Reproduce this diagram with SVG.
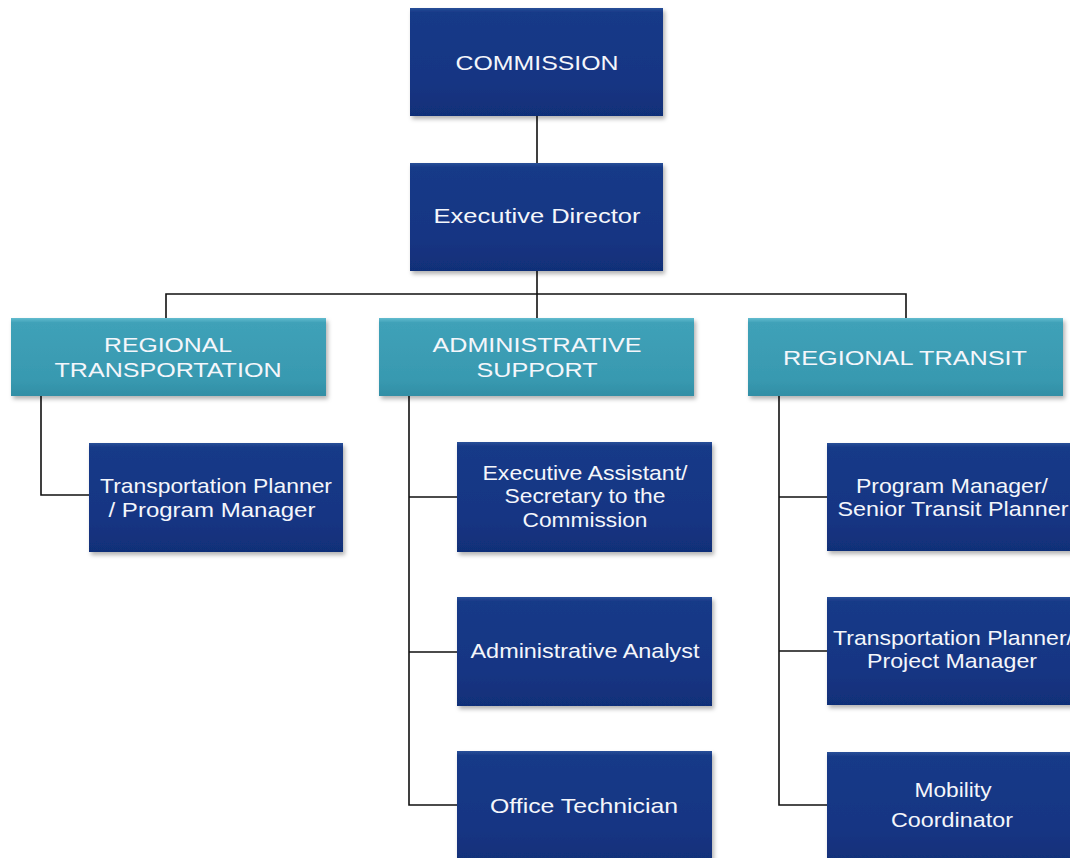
<svg xmlns="http://www.w3.org/2000/svg" width="1070" height="858" viewBox="0 0 1070 858">
<defs>
<linearGradient id="navy" x1="0" y1="0" x2="0" y2="1">
<stop offset="0" stop-color="#2a4f98"/>
<stop offset="0.04" stop-color="#173a88"/>
<stop offset="0.7" stop-color="#143583"/>
<stop offset="1" stop-color="#112f78"/>
</linearGradient>
<linearGradient id="teal" x1="0" y1="0" x2="0" y2="1">
<stop offset="0" stop-color="#62bccf"/>
<stop offset="0.06" stop-color="#3fa1b8"/>
<stop offset="0.8" stop-color="#3899b0"/>
<stop offset="1" stop-color="#318ea5"/>
</linearGradient>
<filter id="sh" x="-5%" y="-5%" width="115%" height="120%">
<feDropShadow dx="2" dy="3" stdDeviation="2" flood-color="#000" flood-opacity="0.3"/>
</filter>
<style>
.n{fill:url(#navy);filter:url(#sh)}
.t{fill:url(#teal);filter:url(#sh)}
text{font-family:"Liberation Sans",Arial,sans-serif;font-size:21px;fill:#f4f6fb;text-anchor:middle}
.c{stroke:#111;stroke-width:1.6;fill:none}
</style>
</defs>
<rect width="1070" height="858" fill="#ffffff"/>
<g id="connectors">
<path class="c" d="M537,116V163M537,271V318M166,318V294H906V318"/>
<path class="c" d="M41,396V495H89"/>
<path class="c" d="M409,396V805H457M409,497H457M409,652H457"/>
<path class="c" d="M779,396V805H827M779,497H827M779,651H827"/>
</g>
<g id="commission">
<rect class="n" x="410" y="8" width="253" height="108"/>
<text x="537" y="70" textLength="163" lengthAdjust="spacingAndGlyphs">COMMISSION</text>
</g>
<g id="executive-director">
<rect class="n" x="410" y="163" width="253" height="108"/>
<text x="537" y="223" textLength="207" lengthAdjust="spacingAndGlyphs">Executive Director</text>
</g>
<g id="regional-transportation">
<rect class="t" x="11" y="318" width="315" height="78"/>
<text x="168" y="352" textLength="128" lengthAdjust="spacingAndGlyphs">REGIONAL</text>
<text x="168" y="377" textLength="227" lengthAdjust="spacingAndGlyphs">TRANSPORTATION</text>
</g>
<g id="administrative-support">
<rect class="t" x="379" y="318" width="315" height="78"/>
<text x="537" y="352" textLength="209" lengthAdjust="spacingAndGlyphs">ADMINISTRATIVE</text>
<text x="537" y="377" textLength="121" lengthAdjust="spacingAndGlyphs">SUPPORT</text>
</g>
<g id="regional-transit">
<rect class="t" x="748" y="318" width="315" height="78"/>
<text x="905" y="365" textLength="244" lengthAdjust="spacingAndGlyphs">REGIONAL TRANSIT</text>
</g>
<g id="transportation-planner-program-manager">
<rect class="n" x="89" y="443" width="254" height="109"/>
<text x="216" y="493" textLength="232" lengthAdjust="spacingAndGlyphs">Transportation Planner</text>
<text x="212" y="517" textLength="207" lengthAdjust="spacingAndGlyphs">/ Program Manager</text>
</g>
<g id="executive-assistant">
<rect class="n" x="457" y="442" width="255" height="110"/>
<text x="585" y="480" textLength="205" lengthAdjust="spacingAndGlyphs">Executive Assistant/</text>
<text x="585" y="503" textLength="161" lengthAdjust="spacingAndGlyphs">Secretary to the</text>
<text x="585" y="527" textLength="125" lengthAdjust="spacingAndGlyphs">Commission</text>
</g>
<g id="administrative-analyst">
<rect class="n" x="457" y="597" width="255" height="109"/>
<text x="585" y="658" textLength="229" lengthAdjust="spacingAndGlyphs">Administrative Analyst</text>
</g>
<g id="office-technician">
<rect class="n" x="457" y="751" width="255" height="112"/>
<text x="584" y="813" textLength="188" lengthAdjust="spacingAndGlyphs">Office Technician</text>
</g>
<g id="program-manager-senior-transit-planner">
<rect class="n" x="827" y="443" width="255" height="108"/>
<text x="952" y="493" textLength="192" lengthAdjust="spacingAndGlyphs">Program Manager/</text>
<text x="953" y="516" textLength="231" lengthAdjust="spacingAndGlyphs">Senior Transit Planner</text>
</g>
<g id="transportation-planner-project-manager">
<rect class="n" x="827" y="597" width="255" height="108"/>
<text x="953" y="645" textLength="240" lengthAdjust="spacingAndGlyphs">Transportation Planner/</text>
<text x="952" y="668" textLength="170" lengthAdjust="spacingAndGlyphs">Project Manager</text>
</g>
<g id="mobility-coordinator">
<rect class="n" x="827" y="752" width="255" height="112"/>
<text x="953" y="797" textLength="77" lengthAdjust="spacingAndGlyphs">Mobility</text>
<text x="952" y="827" textLength="122" lengthAdjust="spacingAndGlyphs">Coordinator</text>
</g>
</svg>
